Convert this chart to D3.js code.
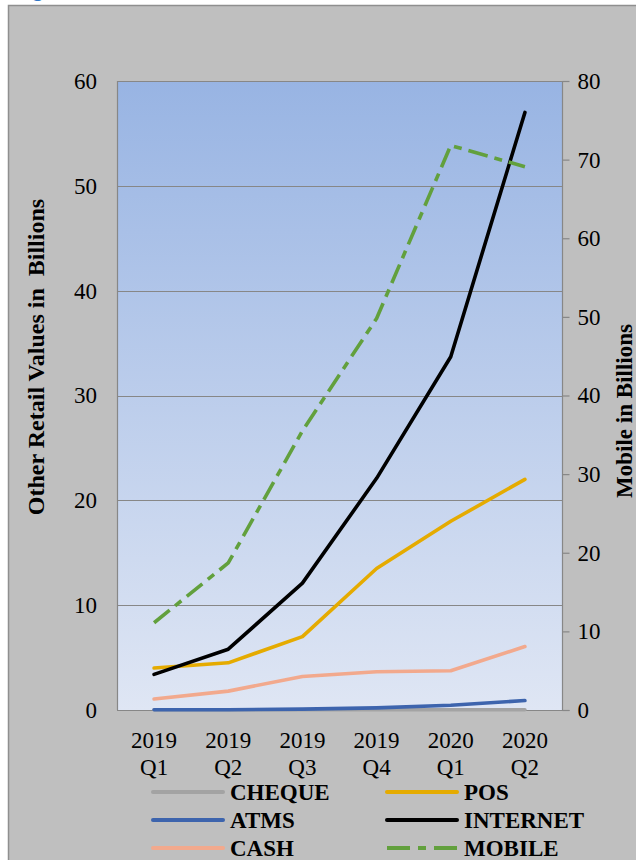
<!DOCTYPE html>
<html>
<head>
<meta charset="utf-8">
<script src="https://cdn.jsdelivr.net/npm/d3@7"></script>
<style>
  html, body { margin: 0; padding: 0; background: #ffffff; }
  svg { display: block; }
  text { font-family: "Liberation Serif", "Times New Roman", serif; fill: #000; }
</style>
</head>
<body>
<script>
// Quarterly retail payment values (billions)
const quarters = ["2019 Q1", "2019 Q2", "2019 Q3", "2019 Q4", "2020 Q1", "2020 Q2"];
const cheque   = [0.03, 0.03, 0.03, 0.02, 0.02, 0.02];
const atms     = [0.02, 0.03, 0.08, 0.2, 0.45, 0.9];
const cash     = [1.05, 1.8, 3.2, 3.65, 3.75, 6.05];
const pos      = [4.0, 4.5, 7.0, 13.5, 18.0, 22.0];
const internet = [3.4, 5.8, 12.1, 22.1, 33.7, 57.0];
const mobile   = [11.1, 18.7, 35.5, 49.8, 71.8, 69.1];   // secondary axis

const leftTicks  = [0, 10, 20, 30, 40, 50, 60];
const rightTicks = [0, 10, 20, 30, 40, 50, 60, 70, 80];

const W = 636, H = 860;
const plot = { left: 117, right: 562, top: 81, bottom: 710 };

const svg = d3.select("body").append("svg")
  .attr("width", W).attr("height", H);

// outer chart frame
svg.append("rect")
  .attr("x", 8.5).attr("y", 5.5).attr("width", 700).attr("height", 900)
  .attr("fill", "#bfbfbf").attr("stroke", "#8f8f8f").attr("stroke-width", 1.5);

// caption peeking in above the frame
svg.append("text")
  .attr("x", 17).attr("y", -3)
  .style("font-family", "Calibri, Carlito, 'Liberation Sans', sans-serif")
  .style("font-weight", "bold").style("font-size", "22px")
  .attr("fill", "#2e75c6").style("fill", "#2e75c6")
  .text("Figure");

const x = d3.scalePoint().domain(quarters).range([plot.left, plot.right]).padding(0.5);
const yL = d3.scaleLinear().domain([0, 60]).range([plot.bottom, plot.top]);
const yR = d3.scaleLinear().domain([0, 80]).range([plot.bottom, plot.top]);

// plot area background gradient
const defs = svg.append("defs");
const grad = defs.append("linearGradient").attr("id", "plotBg")
  .attr("x1", 0).attr("y1", 0).attr("x2", 0).attr("y2", 1);
grad.append("stop").attr("offset", "0%").attr("stop-color", "#98b4e3");
grad.append("stop").attr("offset", "100%").attr("stop-color", "#dfe6f4");

svg.append("rect")
  .attr("x", plot.left).attr("y", plot.top)
  .attr("width", plot.right - plot.left).attr("height", plot.bottom - plot.top)
  .attr("fill", "url(#plotBg)");

// horizontal gridlines on the primary axis
svg.append("g").selectAll("line")
  .data(leftTicks)
  .join("line")
  .attr("x1", plot.left).attr("x2", plot.right)
  .attr("y1", d => Math.round(yL(d)) + 0.5).attr("y2", d => Math.round(yL(d)) + 0.5)
  .attr("stroke", "#878787").attr("stroke-width", 1.2);

// plot border, left side
svg.append("line")
  .attr("x1", plot.left + 0.5).attr("x2", plot.left + 0.5)
  .attr("y1", plot.top).attr("y2", plot.bottom)
  .attr("stroke", "#878787").attr("stroke-width", 1.2);

// left axis
const axL = svg.append("g")
  .attr("transform", `translate(${plot.left},0)`)
  .call(d3.axisLeft(yL).tickValues(leftTicks).tickSize(0).tickPadding(20));
axL.select(".domain").remove();
axL.selectAll("text").style("font-size", "23px").style("font-family", "'Liberation Serif', serif");

// right axis
const axR = svg.append("g")
  .attr("transform", `translate(${plot.right + 0.5},0)`)
  .call(d3.axisRight(yR).tickValues(rightTicks).tickSize(7).tickPadding(8));
axR.select(".domain").attr("stroke", "#878787").attr("stroke-width", 1.2)
  .attr("d", `M0,${plot.top}V${plot.bottom}`);
axR.selectAll(".tick line").attr("stroke", "#878787").attr("stroke-width", 1.2);
axR.selectAll("text").style("font-size", "23px").style("font-family", "'Liberation Serif', serif");

// bottom axis line extends to the right tick marks
svg.append("line")
  .attr("x1", plot.left).attr("x2", plot.right + 7.5)
  .attr("y1", plot.bottom + 0.5).attr("y2", plot.bottom + 0.5)
  .attr("stroke", "#878787").attr("stroke-width", 1.2);

// category labels on two lines
const xLab = svg.append("g").selectAll("text")
  .data(quarters)
  .join("text")
  .attr("x", d => x(d)).attr("y", 748)
  .attr("text-anchor", "middle")
  .style("font-size", "23px");
xLab.append("tspan").attr("x", d => x(d)).text(d => d.split(" ")[0]);
xLab.append("tspan").attr("x", d => x(d)).attr("dy", 27).text(d => d.split(" ")[1]);

// axis titles
svg.append("text")
  .attr("transform", "translate(36,357) rotate(-90)")
  .attr("text-anchor", "middle").attr("dominant-baseline", "central")
  .style("font-size", "24px").style("font-weight", "bold")
  .style("white-space", "pre")
  .text("Other Retail Values in  Billions");

svg.append("text")
  .attr("transform", "translate(632,411) rotate(-90)")
  .attr("text-anchor", "middle")
  .style("font-size", "23px").style("font-weight", "bold")
  .text("Mobile in Billions");

// series
const series = [
  { name: "CHEQUE",   values: cheque,   scale: yL, color: "#a3a3a3", dash: null },
  { name: "ATMS",     values: atms,     scale: yL, color: "#3d64ad", dash: null },
  { name: "CASH",     values: cash,     scale: yL, color: "#f2a98d", dash: null },
  { name: "POS",      values: pos,      scale: yL, color: "#e5ab00", dash: null },
  { name: "INTERNET", values: internet, scale: yL, color: "#000000", dash: null },
  { name: "MOBILE",   values: mobile,   scale: yR, color: "#62a03d", dash: "20,7,8,7" }
];

const lineGroup = svg.append("g");
series.forEach(s => {
  const line = d3.line()
    .x((d, i) => x(quarters[i]))
    .y(d => s.scale(d));
  lineGroup.append("path")
    .datum(s.values)
    .attr("d", line)
    .attr("fill", "none")
    .attr("stroke", s.color)
    .attr("stroke-width", 3.6)
    .attr("stroke-linejoin", "round")
    .attr("stroke-linecap", s.dash ? "butt" : "round")
    .attr("stroke-dasharray", s.dash);
});

// legend, two columns of three
const legendOrder = ["CHEQUE", "ATMS", "CASH", "POS", "INTERNET", "MOBILE"];
const legend = svg.append("g").selectAll("g")
  .data(legendOrder.map(n => series.find(s => s.name === n)))
  .join("g")
  .attr("transform", (d, i) => `translate(${i < 3 ? 153 : 387},${792 + (i % 3) * 28})`);
legend.append("line")
  .attr("x1", 0).attr("x2", 70).attr("y1", 0).attr("y2", 0)
  .attr("stroke", d => d.color).attr("stroke-width", 4)
  .attr("stroke-linecap", d => d.dash ? "butt" : "round")
  .attr("stroke-dasharray", d => d.dash ? "23,8,8,8" : null);
legend.append("text")
  .attr("x", 77).attr("y", 8)
  .style("font-size", "23px").style("font-weight", "bold")
  .text(d => d.name);
</script>
</body>
</html>
